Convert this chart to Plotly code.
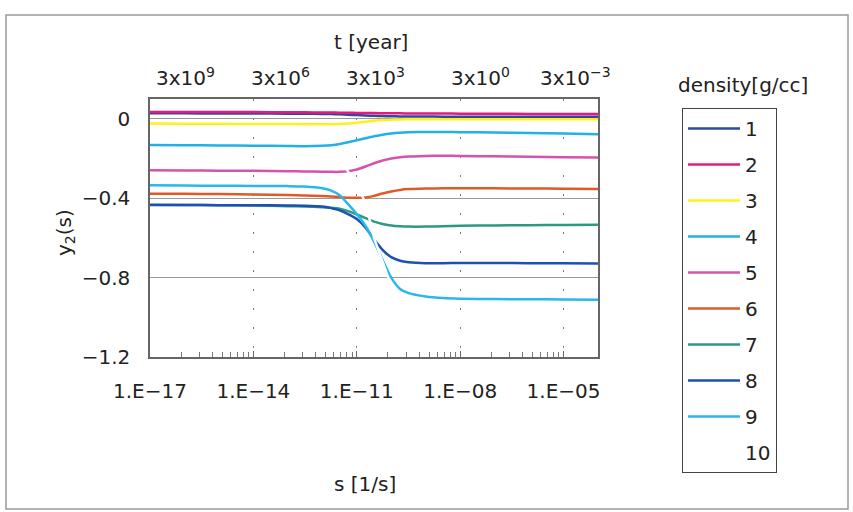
import plotly.graph_objects as go

# ---- data ----
S = [1e-17, 1e-16, 1e-15, 1e-14, 1e-13, 3e-13, 1e-12, 1.8e-12, 3.2e-12, 5.6e-12,
     1e-11, 1.8e-11, 3.2e-11, 5.6e-11, 1e-10, 1.8e-10, 3.2e-10, 1e-9, 3.2e-9, 1e-8,
     1e-7, 1e-6, 1e-5, 1e-4]

Y1 = [0.028, 0.028, 0.027, 0.027, 0.026, 0.026, 0.025, 0.024, 0.023, 0.021, 0.019, 0.017,
      0.015, 0.014, 0.013, 0.012, 0.012, 0.012, 0.011, 0.011, 0.011, 0.010, 0.010, 0.010]
Y2 = [0.035, 0.035, 0.034, 0.034, 0.033, 0.033, 0.032, 0.032, 0.031, 0.031, 0.030, 0.029,
      0.029, 0.028, 0.028, 0.028, 0.027, 0.027, 0.027, 0.026, 0.026, 0.025, 0.025, 0.025]
Y3 = [-0.024, -0.025, -0.025, -0.026, -0.026, -0.027, -0.027, -0.027, -0.026, -0.024, -0.020, -0.015,
      -0.010, -0.006, -0.004, -0.003, -0.002, -0.002, -0.002, -0.002, -0.002, -0.002, -0.002, -0.002]
Y4 = [-0.132, -0.133, -0.134, -0.135, -0.137, -0.138, -0.136, -0.133, -0.127, -0.118, -0.108, -0.098,
      -0.088, -0.080, -0.074, -0.070, -0.068, -0.066, -0.066, -0.067, -0.069, -0.071, -0.074, -0.077]
Y5 = [-0.259, -0.260, -0.261, -0.262, -0.264, -0.265, -0.266, -0.267, -0.267, -0.264, -0.255, -0.240,
      -0.224, -0.210, -0.200, -0.194, -0.190, -0.187, -0.186, -0.187, -0.189, -0.191, -0.193, -0.195]
Y6 = [-0.377, -0.378, -0.379, -0.381, -0.384, -0.386, -0.389, -0.391, -0.394, -0.397, -0.398, -0.396,
      -0.388, -0.376, -0.366, -0.358, -0.354, -0.351, -0.350, -0.350, -0.350, -0.351, -0.352, -0.353]
Y7 = [-0.433, -0.434, -0.435, -0.437, -0.440, -0.442, -0.445, -0.448, -0.453, -0.465, -0.482, -0.500,
      -0.518, -0.530, -0.537, -0.541, -0.543, -0.543, -0.541, -0.539, -0.537, -0.536, -0.535, -0.534]
Y8 = [-0.434, -0.434, -0.435, -0.435, -0.437, -0.438, -0.442, -0.450, -0.461, -0.480, -0.505, -0.548,
      -0.608, -0.660, -0.697, -0.715, -0.722, -0.727, -0.727, -0.726, -0.726, -0.727, -0.728, -0.729]
Y9 = [-0.335, -0.336, -0.337, -0.338, -0.339, -0.341, -0.350, -0.362, -0.385, -0.430, -0.480, -0.540,
      -0.620, -0.710, -0.800, -0.857, -0.878, -0.895, -0.903, -0.906, -0.908, -0.909, -0.910, -0.911]
Y10 = [-0.150, -0.150, -0.151, -0.152, -0.158, -0.165, -0.178, -0.195, -0.220, -0.265, -0.330, -0.430,
       -0.600, -0.720, -0.840, -0.930, -0.990, -1.050, -1.070, -1.075, -1.080, -1.080, -1.080, -1.080]

SERIES = [Y1, Y2, Y3, Y4, Y5, Y6, Y7, Y8, Y9, Y10]
NAMES = ["1", "2", "3", "4", "5", "6", "7", "8", "9", "10"]
COLORS = ["#2B4C9E", "#E8187E", "#FFF21A", "#22B0E6", "#D653AC", "#E05A28",
          "#2C9A80", "#1E50B4", "#2AB8EA", "#FFFFFF"]

X_TICKS = [1e-17, 1e-14, 1e-11, 1e-8, 1e-5]
X_TICKTEXT = ["1.E\u221217", "1.E\u221214", "1.E\u221211", "1.E\u221208", "1.E\u221205"]
Y_TICKS = [-1.2, -0.8, -0.4, 0.0]
Y_TICKTEXT = ["\u22121.2", "\u22120.8", "\u22120.4", "0"]
TOP_LABELS = ["3x10<sup>9</sup>", "3x10<sup>6</sup>", "3x10<sup>3</sup>",
              "3x10<sup>0</sup>", "3x10<sup>\u22123</sup>"]
# Excel base-1000 minor ticks: k^3 multiples of each major
MINOR_MULT = [8, 27, 64, 125, 216, 343, 512, 729]

W, H = 853, 512
PL, PR, PT, PB = 150, 598, 99, 357   # plot area in pixels
FONT = "DejaVu Sans"
TXT = "#222222"


def px_x(px):
    return (px - PL) / (PR - PL)


def px_y(py):
    return (PB - py) / (PB - PT)


fig = go.Figure()
for name, ys, col in zip(NAMES, SERIES, COLORS):
    fig.add_trace(go.Scatter(
        x=S, y=ys, name=name, mode="lines", legendgroup=name,
        line=dict(color=col, width=2.5, shape="spline", smoothing=0.6),
    ))

minor_vals = [m * mult for m in X_TICKS[:-1] for mult in MINOR_MULT]

fig.update_xaxes(
    type="log", range=[-17, -4],
    tickmode="array", tickvals=X_TICKS, ticktext=X_TICKTEXT,
    ticks="inside", ticklen=6, tickcolor="#666", tickwidth=1,
    minor=dict(tickmode="array", tickvals=minor_vals, ticks="inside", ticklen=5,
               tickcolor="#777", showgrid=False),
    showgrid=True, gridcolor="#777", gridwidth=1, griddash="2px,17px",
    showline=True, linecolor="#666", linewidth=1.5, mirror=True,
    tickfont=dict(family=FONT, size=20, color=TXT), ticklabelstandoff=15,
    zeroline=False,
)
fig.update_yaxes(
    range=[-1.2, 0.1], tickmode="array", tickvals=Y_TICKS, ticktext=Y_TICKTEXT,
    ticks="", showgrid=True, gridcolor="#999", gridwidth=1,
    showline=True, linecolor="#666", linewidth=1.5, mirror=True,
    tickfont=dict(family=FONT, size=20, color=TXT), ticklabelstandoff=14,
    zeroline=False,
)

ann = []


def add_text(text, px, py, **kw):
    ann.append(dict(text=text, x=px_x(px), y=px_y(py), xref="paper", yref="paper",
                    xanchor="center", yanchor="middle", showarrow=False,
                    font=dict(family=FONT, size=20, color=TXT), **kw))


add_text("t [year]", 371, 42)
for lab, px in zip(TOP_LABELS, [185, 280, 375, 480, 575]):
    add_text(lab, px, 77)
add_text("s [1/s]", 365, 484)
add_text("y<sub>2</sub>(s)", 65, 233, textangle=-90)
add_text("density[g/cc]", 743, 85)

fig.update_layout(
    width=W, height=H,
    margin=dict(l=PL, r=W - PR, t=PT, b=H - PB),
    paper_bgcolor="white", plot_bgcolor="white",
    showlegend=True,
    legend=dict(x=682 / W, y=1 - 108 / H, xref="container", yref="container",
                xanchor="left", yanchor="top", bordercolor="#444", borderwidth=1,
                bgcolor="white", font=dict(family=FONT, size=20, color=TXT),
                tracegroupgap=7, itemwidth=52),
    annotations=ann,
    shapes=[dict(type="rect", xref="paper", yref="paper",
                 x0=px_x(6), x1=px_x(848), y0=px_y(509), y1=px_y(15),
                 line=dict(color="#999999", width=1.5), layer="below")],
)
try:
    fig.update_layout(legend_maxheight=400)
except (ValueError, AttributeError):
    pass

fig.write_html("out.html")
